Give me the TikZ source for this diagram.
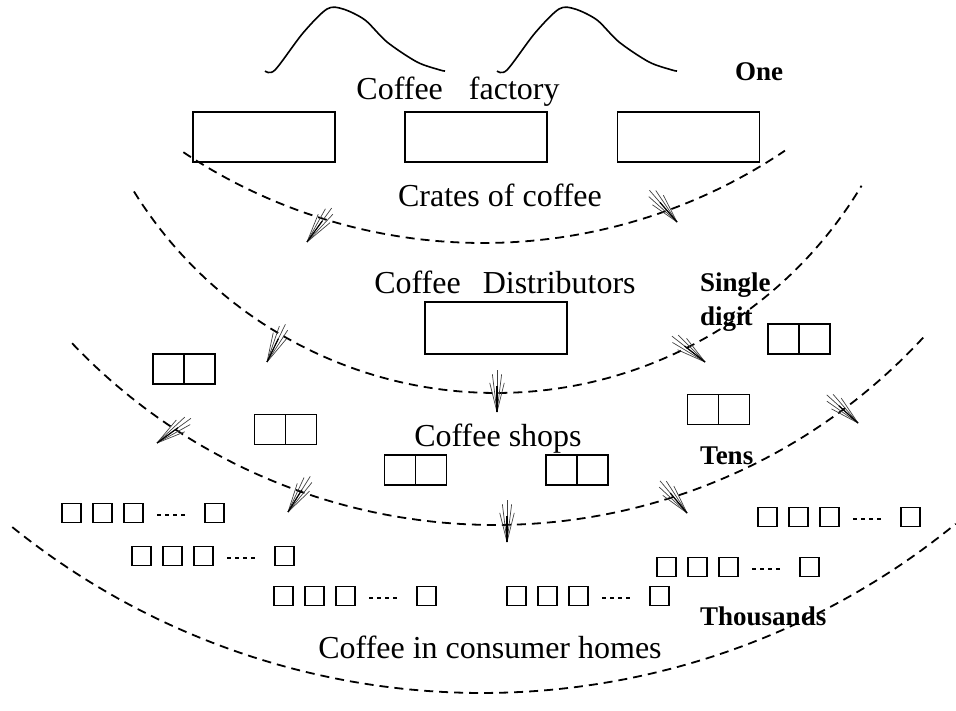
\documentclass[tikz,border=0pt]{standalone}
\usepackage{fontspec}
\setmainfont{Liberation Serif}
\newcommand\fanarrow[2]{%
  \foreach \d/\l in {-14/30,-7/38,0/42,7/38,14/30}
    \draw[fanline] (#1) -- ++(#2+\d:\l);%
  \draw[line width=1.2pt] (#1) -- ++(#2:26);}
\begin{document}
\begin{tikzpicture}[x=1pt,y=-1pt,
  dasharc/.style={line width=1.8pt, dash pattern=on 9pt off 6pt},
  boxn/.style={draw, line width=1.6pt, inner sep=0pt, minimum width=142pt, minimum height=50pt},
  pairbox/.style={draw, line width=1.6pt, inner sep=0pt, minimum width=62pt, minimum height=30pt,
    path picture={\draw[line width=1.6pt] (path picture bounding box.north) -- (path picture bounding box.south);}},
  sq/.style={draw, line width=1.5pt, inner sep=0pt, minimum size=19pt},
  dots/.style={line width=1.5pt, dash pattern=on 4pt off 4pt},
  lbl/.style={font=\fontsize{32}{38}\selectfont, inner sep=0pt, anchor=base},
  bl/.style={font=\fontsize{27}{32}\selectfont\bfseries, inner sep=0pt, anchor=base west},
  fanline/.style={line width=0.7pt, black!75},
  hill/.style={line width=1.6pt, line join=round}
]
\useasboundingbox (0,0) rectangle (956,711);

% hills
\draw[hill] plot[smooth, tension=0.5] coordinates {(265,71) (275,70) (303,33) (327,9) (343,9) (365,20) (387,42) (417,62) (440,70) (445,71)};
\draw[hill] plot[smooth, tension=0.5] coordinates {(497,71) (507,70) (535,33) (559,9) (575,9) (597,20) (619,42) (649,62) (672,70) (677,71)};

% texts
\node[lbl] (factory) at (458,100) {Coffee\hspace{26pt}factory};
\node[lbl] (crates) at (500,207) {Crates of coffee};
\node[lbl] (distr) at (505,294) {Coffee\hspace{22pt}Distributors};
\node[lbl] (shops) at (498,446) {Coffee shops};
\node[lbl] (homes) at (490,658) {Coffee in consumer homes};
\node[bl] (one) at (735,81) {One};
\node[bl] (single) at (700,292) {Single};
\node[bl] (digit) at (700,326) {digit};
\node[bl] (tens) at (700,464) {Tens};
\node[bl] (thous) at (700,625) {Thousands};

% factory boxes
\node[boxn] (f1) at (264,137) {};
\node[boxn] (f2) at (476,137) {};
\node[boxn] (f3) at (688.5,137) {};
% distributor
\node[boxn, minimum height=52pt] (d1) at (496,328) {};
% shops
\node[pairbox] (p1) at (184,369) {};
\node[pairbox] (p2) at (285.5,429.5) {};
\node[pairbox] (p3) at (415.5,470) {};
\node[pairbox] (p4) at (577,470) {};
\node[pairbox] (p5) at (718.5,409.5) {};
\node[pairbox] (p6) at (799,339) {};

% homes
\foreach \sx/\sy [count=\r] in {62/513, 132/556, 274/596, 507/596, 657/567, 758/517} {
  \foreach \o [count=\k] in {0,31,62,143}
    \node[sq] (h\r-\k) at (\sx+9.5+\o,\sy) {};
  \draw[dots] (\sx+95,\sy+2) -- (\sx+124,\sy+2);
}

% arcs
\draw[dasharc] plot[domain=123.7:56, samples=90] ({483+540*cos(\x)},{-297+540*sin(\x)});
\draw[dasharc] plot[domain=148.2:30.9, samples=100] ({496+426*cos(\x)},{-33+426*sin(\x)});
\draw[dasharc] plot[domain=136.5:42.5, samples=110] ({495+583*cos(\x)},{-58+583*sin(\x)});
\draw[dasharc] plot[domain=128.9:50.7, samples=120] ({482+748*cos(\x)},{-55+748*sin(\x)});

% arrows
\fanarrow{307,242}{-54}
\fanarrow{677,222}{-131}
\fanarrow{267,362}{-64}
\fanarrow{497,412}{-90}
\fanarrow{705,362}{-142}
\fanarrow{157,443}{-36}
\fanarrow{288,512}{-58}
\fanarrow{507,542}{-90}
\fanarrow{687,513}{-130}
\fanarrow{858,423}{-138}
\end{tikzpicture}
\end{document}
